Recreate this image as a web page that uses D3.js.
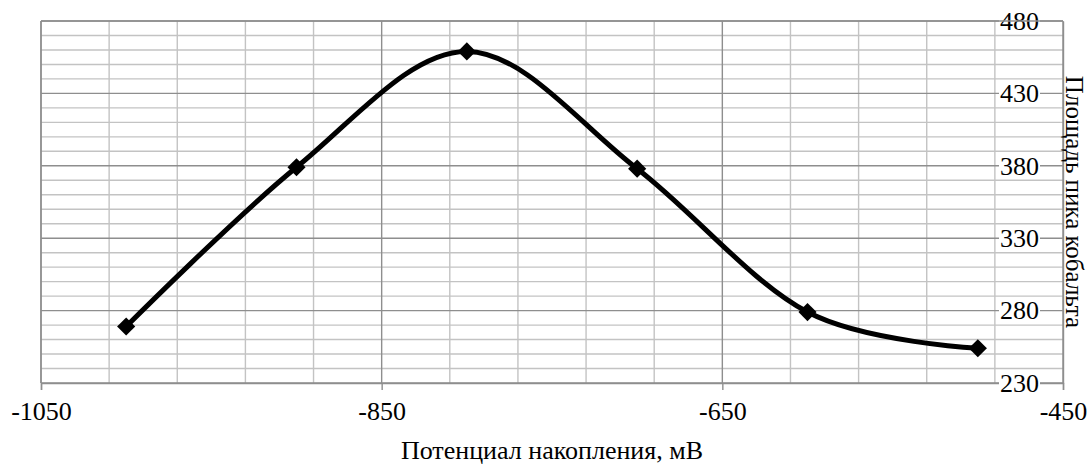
<!DOCTYPE html>
<html>
<head>
<meta charset="utf-8">
<script src="https://cdn.jsdelivr.net/npm/d3@7"></script>
<style>
  html, body { margin: 0; padding: 0; background: #fff; }
  svg text { font-family: "Liberation Serif", "Times New Roman", serif; fill: #000; }
</style>
</head>
<body>
<svg id="chart" width="1091" height="464"></svg>
<script>
// Potential (mV) vs. cobalt peak area
const potentials = [-1000, -900, -800, -700, -600, -500];
const peakAreas  = [269, 379, 459, 378, 279, 254];

const xTicks = [-1050, -850, -650, -450];
const yTicks = [230, 280, 330, 380, 430, 480];
const xDomain = [-1050, -450];
const yDomain = [230, 480];
const xMinorStep = 40;
const yMinorStep = 10;

const xTitle = "Потенциал накопления, мВ";
const yTitle = "Площадь пика кобальта";

const W = 1091, H = 464;
const m = { top: 21, right: 28, bottom: 81, left: 41 };
const iw = W - m.left - m.right, ih = H - m.top - m.bottom;

const svg = d3.select("#chart");
const g = svg.append("g").attr("transform", `translate(${m.left},${m.top})`);

const x = d3.scaleLinear().domain(xDomain).range([0, iw]);
const y = d3.scaleLinear().domain(yDomain).range([ih, 0]);

const minorColor = "#c3c3c3", majorColor = "#8e8e8e";
const plainNum = d => String(d);   // ASCII hyphen for negatives

// minor grid
const xMinor = d3.range(xDomain[0], xDomain[1] + 0.001, xMinorStep).filter(v => !xTicks.includes(v));
const yMinor = d3.range(yDomain[0], yDomain[1] + 0.001, yMinorStep).filter(v => !yTicks.includes(v));

g.append("g").selectAll("line").data(xMinor).join("line")
  .attr("x1", d => x(d)).attr("x2", d => x(d)).attr("y1", 0).attr("y2", ih)
  .attr("stroke", minorColor).attr("stroke-width", 1.4);
g.append("g").selectAll("line").data(yMinor).join("line")
  .attr("y1", d => y(d)).attr("y2", d => y(d)).attr("x1", 0).attr("x2", iw)
  .attr("stroke", minorColor).attr("stroke-width", 1.4);

// major grid
g.append("g").selectAll("line").data(xTicks).join("line")
  .attr("x1", d => x(d)).attr("x2", d => x(d)).attr("y1", 0).attr("y2", ih)
  .attr("stroke", majorColor).attr("stroke-width", 1.4);
g.append("g").selectAll("line").data(yTicks).join("line")
  .attr("y1", d => y(d)).attr("y2", d => y(d)).attr("x1", 0).attr("x2", iw)
  .attr("stroke", majorColor).attr("stroke-width", 1.4);

// bottom axis
const xAxis = d3.axisBottom(x).tickValues(xTicks).tickSize(7).tickPadding(12)
  .tickFormat(plainNum);
const xa = g.append("g").attr("transform", `translate(0,${ih})`).call(xAxis);
xa.select(".domain").attr("stroke", majorColor).attr("stroke-width", 1.4);
xa.selectAll(".tick line").attr("stroke", majorColor).attr("stroke-width", 1.4);
xa.selectAll(".tick text").attr("font-size", 26).attr("font-family", "Liberation Serif");

// right axis, labels on the inner side
const yAxis = d3.axisLeft(y).tickValues(yTicks).tickSize(0).tickPadding(24)
  .tickFormat(plainNum);
const ya = g.append("g").attr("transform", `translate(${iw},0)`).call(yAxis);
ya.select(".domain").attr("stroke", majorColor).attr("stroke-width", 1.4);
ya.selectAll(".tick text").attr("font-size", 26).attr("font-family", "Liberation Serif");
ya.selectAll(".tick").each(function () {
  const t = d3.select(this).select("text");
  const bb = t.node().getBBox();
  d3.select(this).insert("rect", "text")
    .attr("x", bb.x - 1).attr("y", bb.y + 3).attr("width", bb.width + 2).attr("height", bb.height - 6)
    .attr("fill", "#fff");
});

// plot border (top, left)
g.append("line").attr("x1", 0).attr("x2", iw).attr("y1", 0).attr("y2", 0)
  .attr("stroke", majorColor).attr("stroke-width", 1.4);
g.append("line").attr("x1", 0).attr("x2", 0).attr("y1", 0).attr("y2", ih)
  .attr("stroke", majorColor).attr("stroke-width", 1.4);

// smoothed series
const pts = potentials.map((p, i) => [p, peakAreas[i]]);
const line = d3.line().x(d => x(d[0])).y(d => y(d[1])).curve(d3.curveCardinal.tension(0));
g.append("path").datum(pts).attr("d", line)
  .attr("fill", "none").attr("stroke", "#000").attr("stroke-width", 5)
  .attr("stroke-linejoin", "round");

// diamond markers
const sym = d3.symbol().type(d3.symbolSquare).size(165);
g.append("g").selectAll("path").data(pts).join("path")
  .attr("d", sym)
  .attr("transform", d => `translate(${x(d[0])},${y(d[1])}) rotate(45)`)
  .attr("fill", "#000");

// axis titles
svg.append("text")
  .attr("x", m.left + iw / 2).attr("y", 459)
  .attr("text-anchor", "middle").attr("font-size", 26)
  .text(xTitle);

svg.append("text")
  .attr("transform", `translate(${m.left + iw + 3},${m.top + ih / 2}) rotate(90)`)
  .attr("text-anchor", "middle").attr("font-size", 25)
  .text(yTitle);
</script>
</body>
</html>
